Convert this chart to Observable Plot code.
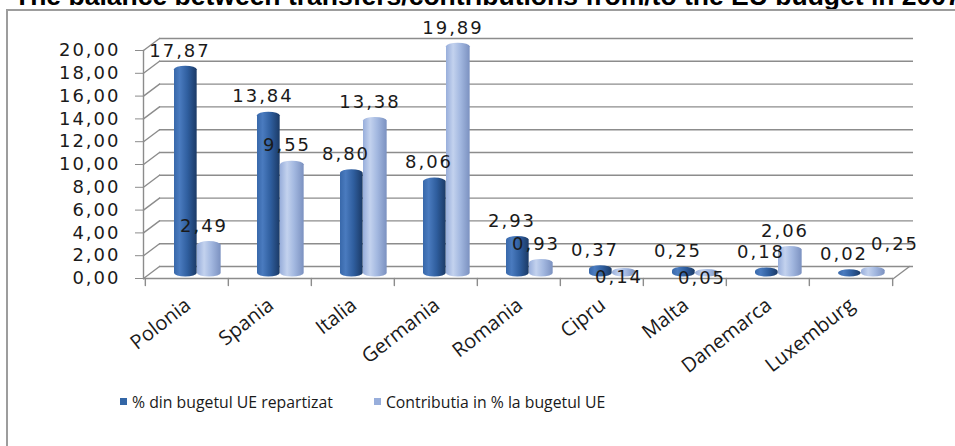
<!DOCTYPE html>
<html><head><meta charset="utf-8">
<script src="https://cdn.jsdelivr.net/npm/d3@7"></script>
<script src="https://cdn.jsdelivr.net/npm/@observablehq/plot@0.6"></script>
<style>
html,body{margin:0;padding:0;background:#fff;width:955px;height:446px;overflow:hidden;}
#wrap{position:relative;width:955px;height:446px;overflow:hidden;background:#fff;}
#title{position:absolute;left:14px;top:-17.4px;font:bold 26.5px "Liberation Sans",Arial,sans-serif;line-height:26.5px;white-space:nowrap;color:#000;}
#box{position:absolute;left:6px;top:9px;width:1000px;height:500px;border-left:2px solid #9d9d9d;border-top:2px solid #9d9d9d;}
#chart{position:absolute;left:0;top:0;}
#legend{position:absolute;left:120px;top:385px;}
#chart g[aria-label="y-axis tick label"] text, #chart g[aria-label="text"] text{letter-spacing:2px;}
.lg-swatch{margin-right:41px !important;font-family:"Open Sans",sans-serif;font-size:15.8px;color:#1a1a1a;}
.lg-swatch svg{margin-right:5px !important;}
</style></head>
<body><div id="wrap">
<svg width="0" height="0" style="position:absolute"><defs>
<linearGradient id="gDark" x1="0" x2="1" y1="0" y2="0">
<stop offset="0" stop-color="#3868aa"/><stop offset="0.25" stop-color="#4a7bbf"/><stop offset="0.6" stop-color="#2f5e9e"/><stop offset="1" stop-color="#1b3a66"/>
</linearGradient>
<linearGradient id="gLight" x1="0" x2="1" y1="0" y2="0">
<stop offset="0" stop-color="#98aedb"/><stop offset="0.3" stop-color="#c3d2ee"/><stop offset="0.6" stop-color="#a3b8e0"/><stop offset="1" stop-color="#7b91c0"/>
</linearGradient>
</defs></svg>
<div id="title">The balance between transfers/contributions from/to the EU budget in 2007</div>
<div id="box"></div>
<div id="chart"></div>
<div id="legend"></div>
</div>
<script>
const countries = ["Polonia","Spania","Italia","Germania","Romania","Cipru","Malta","Danemarca","Luxemburg"];
const repartizat = [17.87,13.84,8.80,8.06,2.93,0.37,0.25,0.18,0.02];
const contributie = [2.49,9.55,13.38,19.89,0.93,0.14,0.05,2.06,0.25];
const seriesNames = ["% din bugetul UE repartizat","Contributia in % la bugetul UE"];
const seriesColors = ["#3366a6","#98aedb"];
const yTicks = [0,2,4,6,8,10,12,14,16,18,20];

const data = countries.map((c,i)=>({country:c, rep:repartizat[i], con:contributie[i]}));
const fmt = d => d3.format(".2f")(d).replace(".", ",");
const left = 143, right = 893;
const bw = (right-left)/countries.length;
const gridColor = "#8c8c8c";
const line = {draw(ctx, l){ ctx.moveTo(0,0); ctx.lineTo(0,-l); }};
const depthLen = 20, depthRot = 53.13;
// label collision: light label would overlap the dark label
const collide = d => Math.abs(d.rep - d.con) < 1.23;

const chart = Plot.plot({
  width: 955, height: 380,
  marginLeft: left, marginRight: 955-right, marginTop: 50, marginBottom: 102,
  x: {domain: countries, padding: 0, label: null},
  y: {domain: [0,20], label: null},
  style: {background:"none", overflow:"visible", fontFamily:"DejaVu Sans", fontSize:"18px", color:"#1a1a1a"},
  marks: [
    Plot.gridY(yTicks, {stroke: gridColor, strokeOpacity: 1, strokeWidth: 1.4, dx: 16, dy: -12, insetRight: -4}),
    Plot.vector(yTicks, {y: d=>d, frameAnchor:"left", length: depthLen, rotate: depthRot, anchor:"start", shape: line, stroke: gridColor, strokeWidth: 1.4}),
    Plot.vector([0], {y: d=>d, frameAnchor:"right", length: depthLen, rotate: depthRot, anchor:"start", shape: line, stroke: gridColor, strokeWidth: 1.4}),
    Plot.ruleY([0], {stroke: gridColor, strokeWidth: 1.4}),
    Plot.frame({anchor:"left", stroke: gridColor, strokeWidth: 1.4}),
    Plot.vector(countries, {x: d=>d, y: ()=>0, dx: -bw/2, length: 7, rotate: 180, anchor:"start", shape: line, stroke: gridColor, strokeWidth: 1.4}),
    Plot.vector(countries.slice(-1), {x: d=>d, y: ()=>0, dx: bw/2, length: 7, rotate: 180, anchor:"start", shape: line, stroke: gridColor, strokeWidth: 1.4}),
    Plot.axisY({ticks: yTicks, tickFormat: fmt, tickSize: 8, tickPadding: 15, stroke: gridColor, fill: "#1a1a1a", fontSize: 18, label: null}),
    Plot.axisX({tickSize: 0, tickRotate: -38, tickPadding: 24, dx: 1, fontFamily: "Open Sans", fontSize: 20, fill: "#1a1a1a", label: null}),
    Plot.barY(data, {x:"country", y:"rep", fill:"url(#gDark)", insetLeft: 29, insetRight: bw-52, insetTop: -3.5, insetBottom: -3.5, rx: 11.7, ry: 3.5, dy: -5}),
    Plot.barY(data, {x:"country", y:"con", fill:"url(#gLight)", insetLeft: 52, insetRight: bw-76, insetTop: -3.5, insetBottom: -3.5, rx: 11.7, ry: 3.5, dy: -5}),
    Plot.text(data, {x:"country", y:"rep", text: d=>fmt(d.rep), dx: -7, dy: -24, fill:"#1a1a1a"}),
    Plot.text(data.filter(d=>!collide(d)), {x:"country", y:"con", text: d=>fmt(d.con), dx: 17, dy: -24, fill:"#1a1a1a"}),
    Plot.text(data.filter(d=>collide(d) && d.con < d.rep), {x:"country", y:"con", text: d=>fmt(d.con), dx: 17, dy: 0, fill:"#1a1a1a"}),
    Plot.text(data.filter(d=>collide(d) && d.con >= d.rep), {x:"country", y:"con", text: d=>fmt(d.con), dx: 44, dy: -31, fill:"#1a1a1a"})
  ]
});
document.getElementById("chart").appendChild(chart);

const legend = Plot.legend({color: {type:"categorical", domain: seriesNames, range: seriesColors}, swatchSize: 7, className: "lg"});
document.getElementById("legend").appendChild(legend);
</script>
</body></html>
